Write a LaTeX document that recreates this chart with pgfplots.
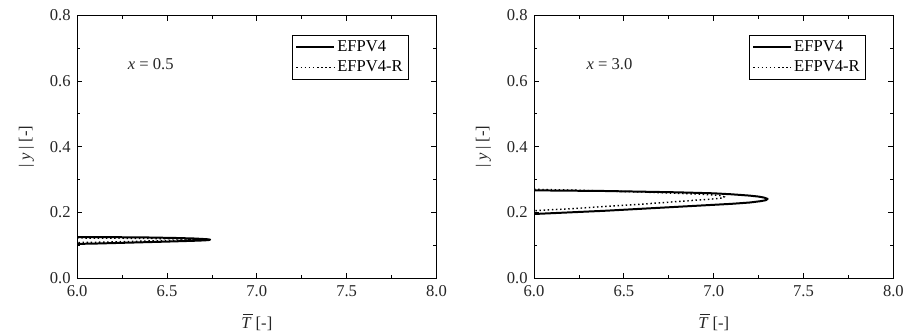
\documentclass[border=0pt]{standalone}
\usepackage{pgfplots}
\pgfplotsset{compat=1.18}
\usepackage{fontspec}
\setmainfont{Liberation Serif}
\newcommand{\fs}{\fontsize{12.5pt}{14pt}\selectfont}
\newcommand{\Tbar}{\leavevmode\rlap{\hspace{0.1em}\raisebox{0.78em}{\rule{0.58em}{0.65pt}}}\textit{T}}
\begin{document}
\fs
\pgfplotsset{
  myax/.style={
    scale only axis, width=270.75pt, height=198pt,
    xmin=6, xmax=8, ymin=0, ymax=0.8,
    xtick={6,6.5,7,7.5,8}, minor xtick={6.25,6.75,7.25,7.75},
    ytick={0,0.2,0.4,0.6,0.8}, minor ytick={0.1,0.3,0.5,0.7},
    tick align=inside, tick pos=both,
    major tick length=4pt, minor tick length=2.5pt,
    tick style={black, line width=0.6pt},
    axis line style={black, line width=0.8pt},
    /pgf/number format/assume math mode=true,
    /pgf/number format/.cd, fixed, fixed zerofill, precision=1, /pgfplots/.cd,
    tick label style={font=\fs, text=black!85},
    xticklabel style={yshift=-1pt},
    yticklabel style={xshift=-0.5pt},
    xlabel={\Tbar\ [-]}, ylabel={|\hspace{0.22em}\textit{y}\hspace{0.22em}| [-]},
    label style={font=\fs, text=black!85},
    xlabel style={yshift=-5pt},
    ylabel style={yshift=3.5pt},
    legend style={at={(0.922,0.925)}, anchor=north east, draw=black, line width=0.6pt,
      font=\fs, inner sep=2pt, row sep=1pt,
      cells={anchor=west}},
    legend image code/.code={\draw[#1] (0pt,0pt) -- (28pt,0pt);},
  }
}
\begin{tikzpicture}
\path[use as bounding box] (-55pt,-43.3pt) rectangle (626pt,209.5pt);
\begin{axis}[myax, at={(0pt,0pt)}, anchor=south west]
\addplot[black, line width=1.5pt, line join=round] coordinates {
(6.0,0.125)(6.2,0.1245)(6.4,0.1235)(6.55,0.122)(6.65,0.1205)(6.70,0.119)(6.73,0.118)(6.74,0.117)(6.73,0.1155)(6.70,0.1145)(6.65,0.1135)(6.5,0.111)(6.3,0.108)(6.1,0.105)(6.0,0.104)};
\addlegendentry{EFPV4}
\addplot[black, line width=1.1pt, dotted] coordinates {
(6.0,0.122)(6.3,0.121)(6.5,0.120)(6.6,0.119)(6.66,0.117)(6.6,0.1155)(6.4,0.113)(6.2,0.110)(6.0,0.108)};
\addlegendentry{EFPV4-R}
\node[font=\fs, text=black!85] at (axis cs:6.41,0.652) {\textit{x} = 0.5};
\end{axis}
\begin{axis}[myax, at={(344.25pt,0pt)}, anchor=south west]
\addplot[black, line width=1.5pt, line join=round] coordinates {
(6.0,0.267)(6.2,0.266)(6.4,0.265)(6.6,0.263)(6.8,0.261)(7.0,0.258)(7.1,0.255)(7.2,0.251)(7.25,0.248)(7.28,0.245)(7.30,0.241)(7.29,0.237)(7.26,0.234)(7.2,0.230)(7.1,0.226)(7.0,0.223)(6.8,0.217)(6.6,0.211)(6.4,0.205)(6.2,0.200)(6.0,0.195)};
\addlegendentry{EFPV4}
\addplot[black, line width=1.1pt, dotted] coordinates {
(6.0,0.270)(6.2,0.268)(6.4,0.265)(6.6,0.262)(6.8,0.258)(6.9,0.256)(7.0,0.253)(7.04,0.251)(7.058,0.247)(7.05,0.244)(7.0,0.241)(6.8,0.233)(6.6,0.225)(6.4,0.218)(6.2,0.211)(6.0,0.205)};
\addlegendentry{EFPV4-R}
\node[font=\fs, text=black!85] at (axis cs:6.42,0.652) {\textit{x} = 3.0};
\end{axis}
\end{tikzpicture}
\end{document}
